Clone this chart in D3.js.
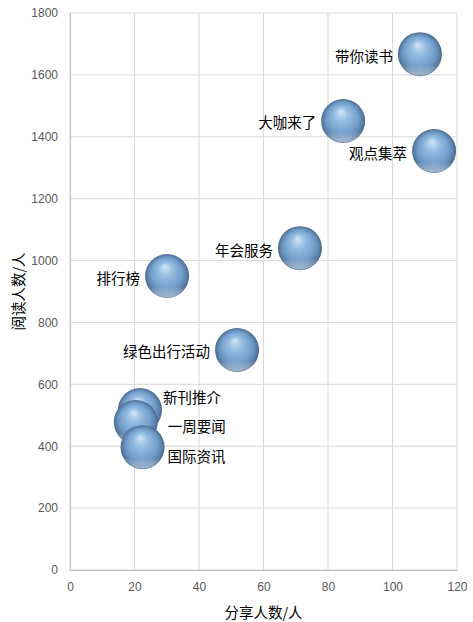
<!DOCTYPE html>
<html>
<head>
  <meta charset="utf-8">
  <style>
    body {
      margin: 0;
      background: #fff;
    }

    .tick text {
      font-family: "Liberation Sans", Arial, sans-serif;
      font-size: 12px;
      fill: #595959;
    }

    .label {
      font-family: "Noto Sans CJK SC", sans-serif;
      font-size: 14.5px;
      fill: #000;
    }
  </style>
</head>
<body>
  <svg id="chart" width="473" height="622"></svg>

  <script src="https://d3js.org/d3.v7.min.js"></script>
  <script>
    // data
    const names = ["新刊推介", "一周要闻", "国际资讯", "排行榜", "绿色出行活动", "年会服务", "大咖来了", "带你读书", "观点集萃"];
    const shares = [21.7, 20.4, 22.5, 30.1, 51.8, 71.3, 84.7, 108.5, 112.9];
    const reads = [517, 478, 397, 950, 711, 1040, 1451, 1667, 1354];
    const sizes = [1, 1, 1, 1, 1, 1, 1, 1, 1];
    const labelSide = ["right", "right", "right", "left", "left", "left", "left", "left", "left"];

    const xTicks = [0, 20, 40, 60, 80, 100, 120];
    const yTicks = [0, 200, 400, 600, 800, 1000, 1200, 1400, 1600, 1800];

    const margin = { top: 13, right: 16, bottom: 52, left: 70 },
      width = 473 - margin.left - margin.right,
      height = 622 - margin.top - margin.bottom;

    const svg = d3.select("#chart");

    // sphere look
    const defs = svg.append("defs");
    const ball = defs.append("radialGradient")
      .attr("id", "ball")
      .attr("cx", "50%").attr("cy", "50%").attr("r", "50%")
      .attr("fx", "45%").attr("fy", "28%");
    ball.append("stop").attr("offset", "0%").attr("stop-color", "#d3e6f6");
    ball.append("stop").attr("offset", "30%").attr("stop-color", "#98bfe3");
    ball.append("stop").attr("offset", "70%").attr("stop-color", "#729ecb");
    ball.append("stop").attr("offset", "90%").attr("stop-color", "#5b80a8");
    ball.append("stop").attr("offset", "100%").attr("stop-color", "#48678a");

    const rim = defs.append("linearGradient")
      .attr("id", "rim")
      .attr("x1", 0).attr("y1", 0).attr("x2", 0).attr("y2", 1);
    rim.append("stop").attr("offset", "0%").attr("stop-color", "#fff").attr("stop-opacity", 0);
    rim.append("stop").attr("offset", "75%").attr("stop-color", "#fff").attr("stop-opacity", 0);
    rim.append("stop").attr("offset", "100%").attr("stop-color", "#d6e7f7").attr("stop-opacity", 0.6);

    const g = svg.append("g")
      .attr("transform", "translate(" + margin.left + "," + margin.top + ")");

    const x = d3.scaleLinear().domain([0, 120]).range([0, width]);
    const y = d3.scaleLinear().domain([0, 1800]).range([height, 0]);
    const r = d3.scaleSqrt().domain([0, 1]).range([0, 22]);

    // gridlines
    g.append("g")
      .selectAll("line")
      .data(yTicks)
      .join("line")
      .attr("x1", 0).attr("x2", width)
      .attr("y1", d => y(d)).attr("y2", d => y(d))
      .attr("stroke", "#d9d9d9");

    g.append("g")
      .selectAll("line")
      .data(xTicks)
      .join("line")
      .attr("y1", 0).attr("y2", height)
      .attr("x1", d => x(d)).attr("x2", d => x(d))
      .attr("stroke", "#d9d9d9");

    // axes
    const xAxis = g.append("g")
      .attr("transform", "translate(0," + height + ")")
      .call(d3.axisBottom(x).tickValues(xTicks).tickFormat(d3.format("d")).tickSize(0).tickPadding(12));
    xAxis.select(".domain").attr("stroke", "#bfbfbf");

    const yAxis = g.append("g")
      .call(d3.axisLeft(y).tickValues(yTicks).tickFormat(d3.format("d")).tickSize(0).tickPadding(12));
    yAxis.select(".domain").attr("stroke", "#bfbfbf");

    // axis titles
    svg.append("text")
      .attr("class", "label")
      .attr("x", margin.left + width / 2)
      .attr("y", 611)
      .attr("text-anchor", "middle")
      .attr("dominant-baseline", "central")
      .text("分享人数/人");

    svg.append("text")
      .attr("class", "label")
      .attr("transform", "translate(17," + (margin.top + height / 2) + ")rotate(-90)")
      .attr("text-anchor", "middle")
      .attr("dominant-baseline", "central")
      .text("阅读人数/人");

    const points = names.map((n, i) => ({
      name: n,
      share: shares[i],
      read: reads[i],
      size: sizes[i],
      side: labelSide[i]
    }));

    // small nudges so the three crowded labels sit like the original
    const nudge = {
      "新刊推介": [1, -14],
      "一周要闻": [10, 3],
      "国际资讯": [3, 8]
    };

    const bubbles = g.append("g")
      .selectAll("g")
      .data(points)
      .join("g")
      .attr("transform", d => "translate(" + x(d.share) + "," + y(d.read) + ")");

    bubbles.append("circle")
      .attr("r", d => r(d.size))
      .attr("fill", "url(#ball)");

    bubbles.append("circle")
      .attr("r", d => r(d.size) - 0.5)
      .attr("fill", "url(#rim)");

    g.append("g")
      .selectAll("text")
      .data(points)
      .join("text")
      .attr("class", "label")
      .attr("x", d => {
        const off = nudge[d.name] ? nudge[d.name][0] : 0;
        return d.side === "left" ? x(d.share) - r(d.size) - 5 : x(d.share) + r(d.size) + off;
      })
      .attr("y", d => y(d.read) + (nudge[d.name] ? nudge[d.name][1] : 1))
      .attr("text-anchor", d => d.side === "left" ? "end" : "start")
      .attr("dominant-baseline", "central")
      .text(d => d.name);
  </script>
</body>
</html>
